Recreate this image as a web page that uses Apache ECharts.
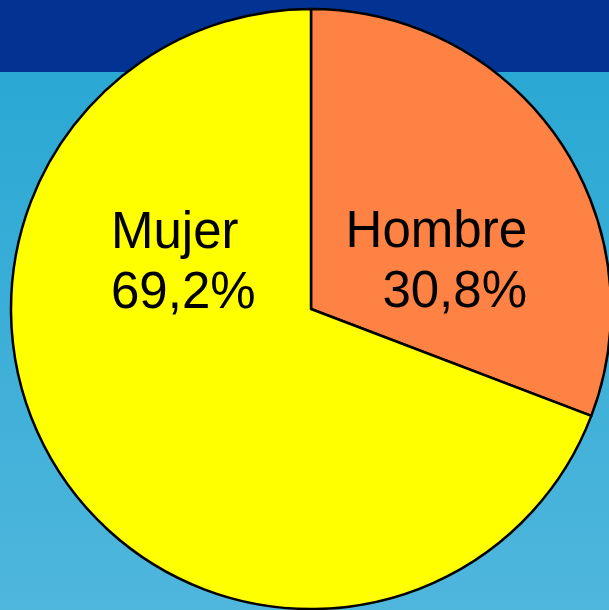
<!DOCTYPE html>
<html>
<head>
<meta charset="utf-8">
<style>
  html, body { margin: 0; padding: 0; }
  #chart { width: 609px; height: 610px; }
</style>
<script src="https://cdn.jsdelivr.net/npm/echarts@6/dist/echarts.min.js"></script>
</head>
<body>
<div id="chart"></div>
<script>
// datos
const categories = ['Hombre', 'Mujer']
const values = [30.8, 69.2]
const colors = ['#fd8244', '#ffff00']

let myChart = echarts.init(document.getElementById('chart'))

const data = categories.map((name, i) => ({
  name: name,
  value: values[i],
  itemStyle: { color: colors[i] },
}))

let option = {
  animation: false,
  graphic: [
    {
      type: 'rect',
      z: -10,
      shape: { x: 0, y: 72, width: 609, height: 538 },
      style: {
        fill: {
          type: 'linear', x: 0, y: 0, x2: 0, y2: 1,
          colorStops: [
            { offset: 0, color: '#2aa8d4' },
            { offset: 1, color: '#4fb6dc' },
          ],
        },
      },
    },
    {
      type: 'rect',
      z: -10,
      shape: { x: 0, y: 0, width: 609, height: 72 },
      style: { fill: '#023393' },
    },
  ],
  series: [
    {
      type: 'pie',
      center: [311, 309],
      radius: 300,
      startAngle: 90,
      clockwise: true,
      silent: true,
      itemStyle: {
        borderColor: '#000',
        borderWidth: 2.5,
      },
      label: {
        show: true,
        position: 'inside',
        fontFamily: 'Liberation Sans, Arial',
        fontSize: 51,
        lineHeight: 60,
        color: '#000',
        formatter: (p) => p.name + '\n' + p.value.toFixed(1).replace('.', ',') + '%',
      },
      labelLayout: (params) => {
        // Mujer a la izquierda, Hombre a la derecha
        if (params.dataIndex === 1) {
          return { x: 111, y: 264, align: 'left', verticalAlign: 'middle' }
        }
        return { x: 527, y: 263, align: 'right', verticalAlign: 'middle' }
      },
      data: data,
    },
  ],
}
myChart.setOption(option)
</script>
</body>
</html>
